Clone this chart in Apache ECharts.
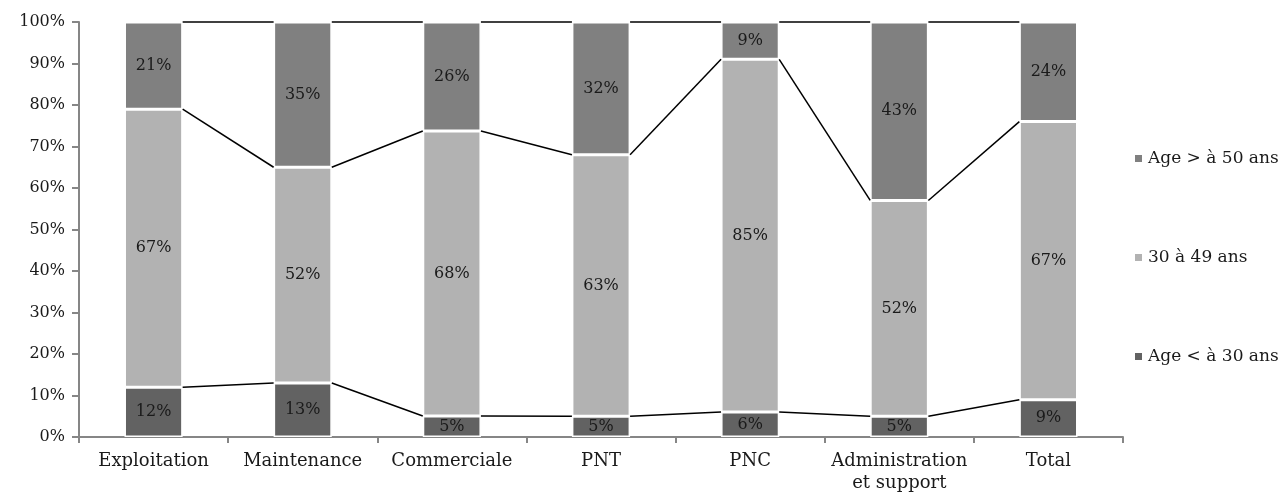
<!DOCTYPE html>
<html><head><meta charset="utf-8">
<script src="https://cdn.jsdelivr.net/npm/echarts@6/dist/echarts.min.js"></script>
<style>html,body{margin:0;padding:0;background:#fff}#c{width:1286px;height:500px}</style>
</head><body><div id="c"></div>
<script>
const categories = ['Exploitation','Maintenance','Commerciale','PNT','PNC','Administration\net support','Total'];
const seriesNames = ['Age < à 30 ans','30 à 49 ans','Age > à 50 ans'];
const under30 = [12,13,5,5,6,5,9];
const from30to49 = [67,52,68,63,85,52,67];
const over50 = [21,35,26,32,9,43,24];
const yTicks = [0,10,20,30,40,50,60,70,80,90,100];

const raw = [under30, from30to49, over50];
const colors = ['#626262','#b2b2b2','#808080'];
const sums = categories.map((c,i)=>raw.reduce((s,a)=>s+a[i],0));
const norm = raw.map(a=>a.map((v,i)=>v/sums[i]*100));
const cum1 = norm[0];
const cum2 = norm[0].map((v,i)=>v+norm[1][i]);
const BAR = 0.39;
const FONT = 'DejaVu Serif';

const barSeries = raw.map((arr,k)=>({
  name: seriesNames[k], type:'bar', stack:'a', barWidth: (BAR*100)+'%',
  data: norm[k],
  itemStyle:{color:colors[k], borderColor:'#fff', borderWidth:1.5},
  label:{show:true, position:'inside', color:'#1a1a1a', fontFamily:FONT, fontSize:16,
    formatter:p=>arr[p.dataIndex]+'%'}
}));

const lineData = categories.slice(0,-1).map((c,i)=>[i, cum1[i], cum1[i+1], cum2[i], cum2[i+1], 100, 100]);
const linesSeries = {
  type:'custom', silent:true, z:5, data: lineData,
  encode:{x:0, y:1},
  renderItem:(params, api)=>{
    const i = api.value(0);
    const hw = api.size([1,0])[0]*BAR/2;
    const children = [];
    for (let k=0;k<3;k++){
      const a = api.coord([i, api.value(1+2*k)]);
      const b = api.coord([i+1, api.value(2+2*k)]);
      children.push({type:'line', shape:{x1:a[0]+hw, y1:a[1], x2:b[0]-hw, y2:b[1]},
        style:{stroke:'#000', lineWidth:1.5}});
    }
    return {type:'group', children};
  }
};

const chart = echarts.init(document.getElementById('c'));
chart.setOption({
  animation:false,
  grid:{left:79, right:163, top:22, bottom:63},
  legend:{
    orient:'vertical', left:1128, top:145,
    data:[seriesNames[2], seriesNames[1], seriesNames[0]],
    icon:'rect', itemWidth:9, itemHeight:9, itemGap:82,
    textStyle:{fontFamily:FONT, fontSize:17, color:'#1a1a1a', lineHeight:16}
  },
  xAxis:{
    type:'category', data:categories,
    axisLine:{lineStyle:{color:'#868686', width:2}},
    axisTick:{show:true, interval:0, length:6, lineStyle:{color:'#868686', width:2}},
    axisLabel:{interval:0, fontFamily:FONT, fontSize:18, color:'#1a1a1a', margin:13, lineHeight:22}
  },
  yAxis:{
    type:'value', min:yTicks[0], max:yTicks[yTicks.length-1], interval:10,
    axisLine:{show:true, lineStyle:{color:'#868686', width:2}},
    axisTick:{show:true, length:7, lineStyle:{color:'#868686', width:2}},
    splitLine:{show:false},
    axisLabel:{formatter:'{value}%', fontFamily:FONT, fontSize:16, color:'#1a1a1a', margin:14}
  },
  series:[...barSeries, linesSeries]
});
</script></body></html>
